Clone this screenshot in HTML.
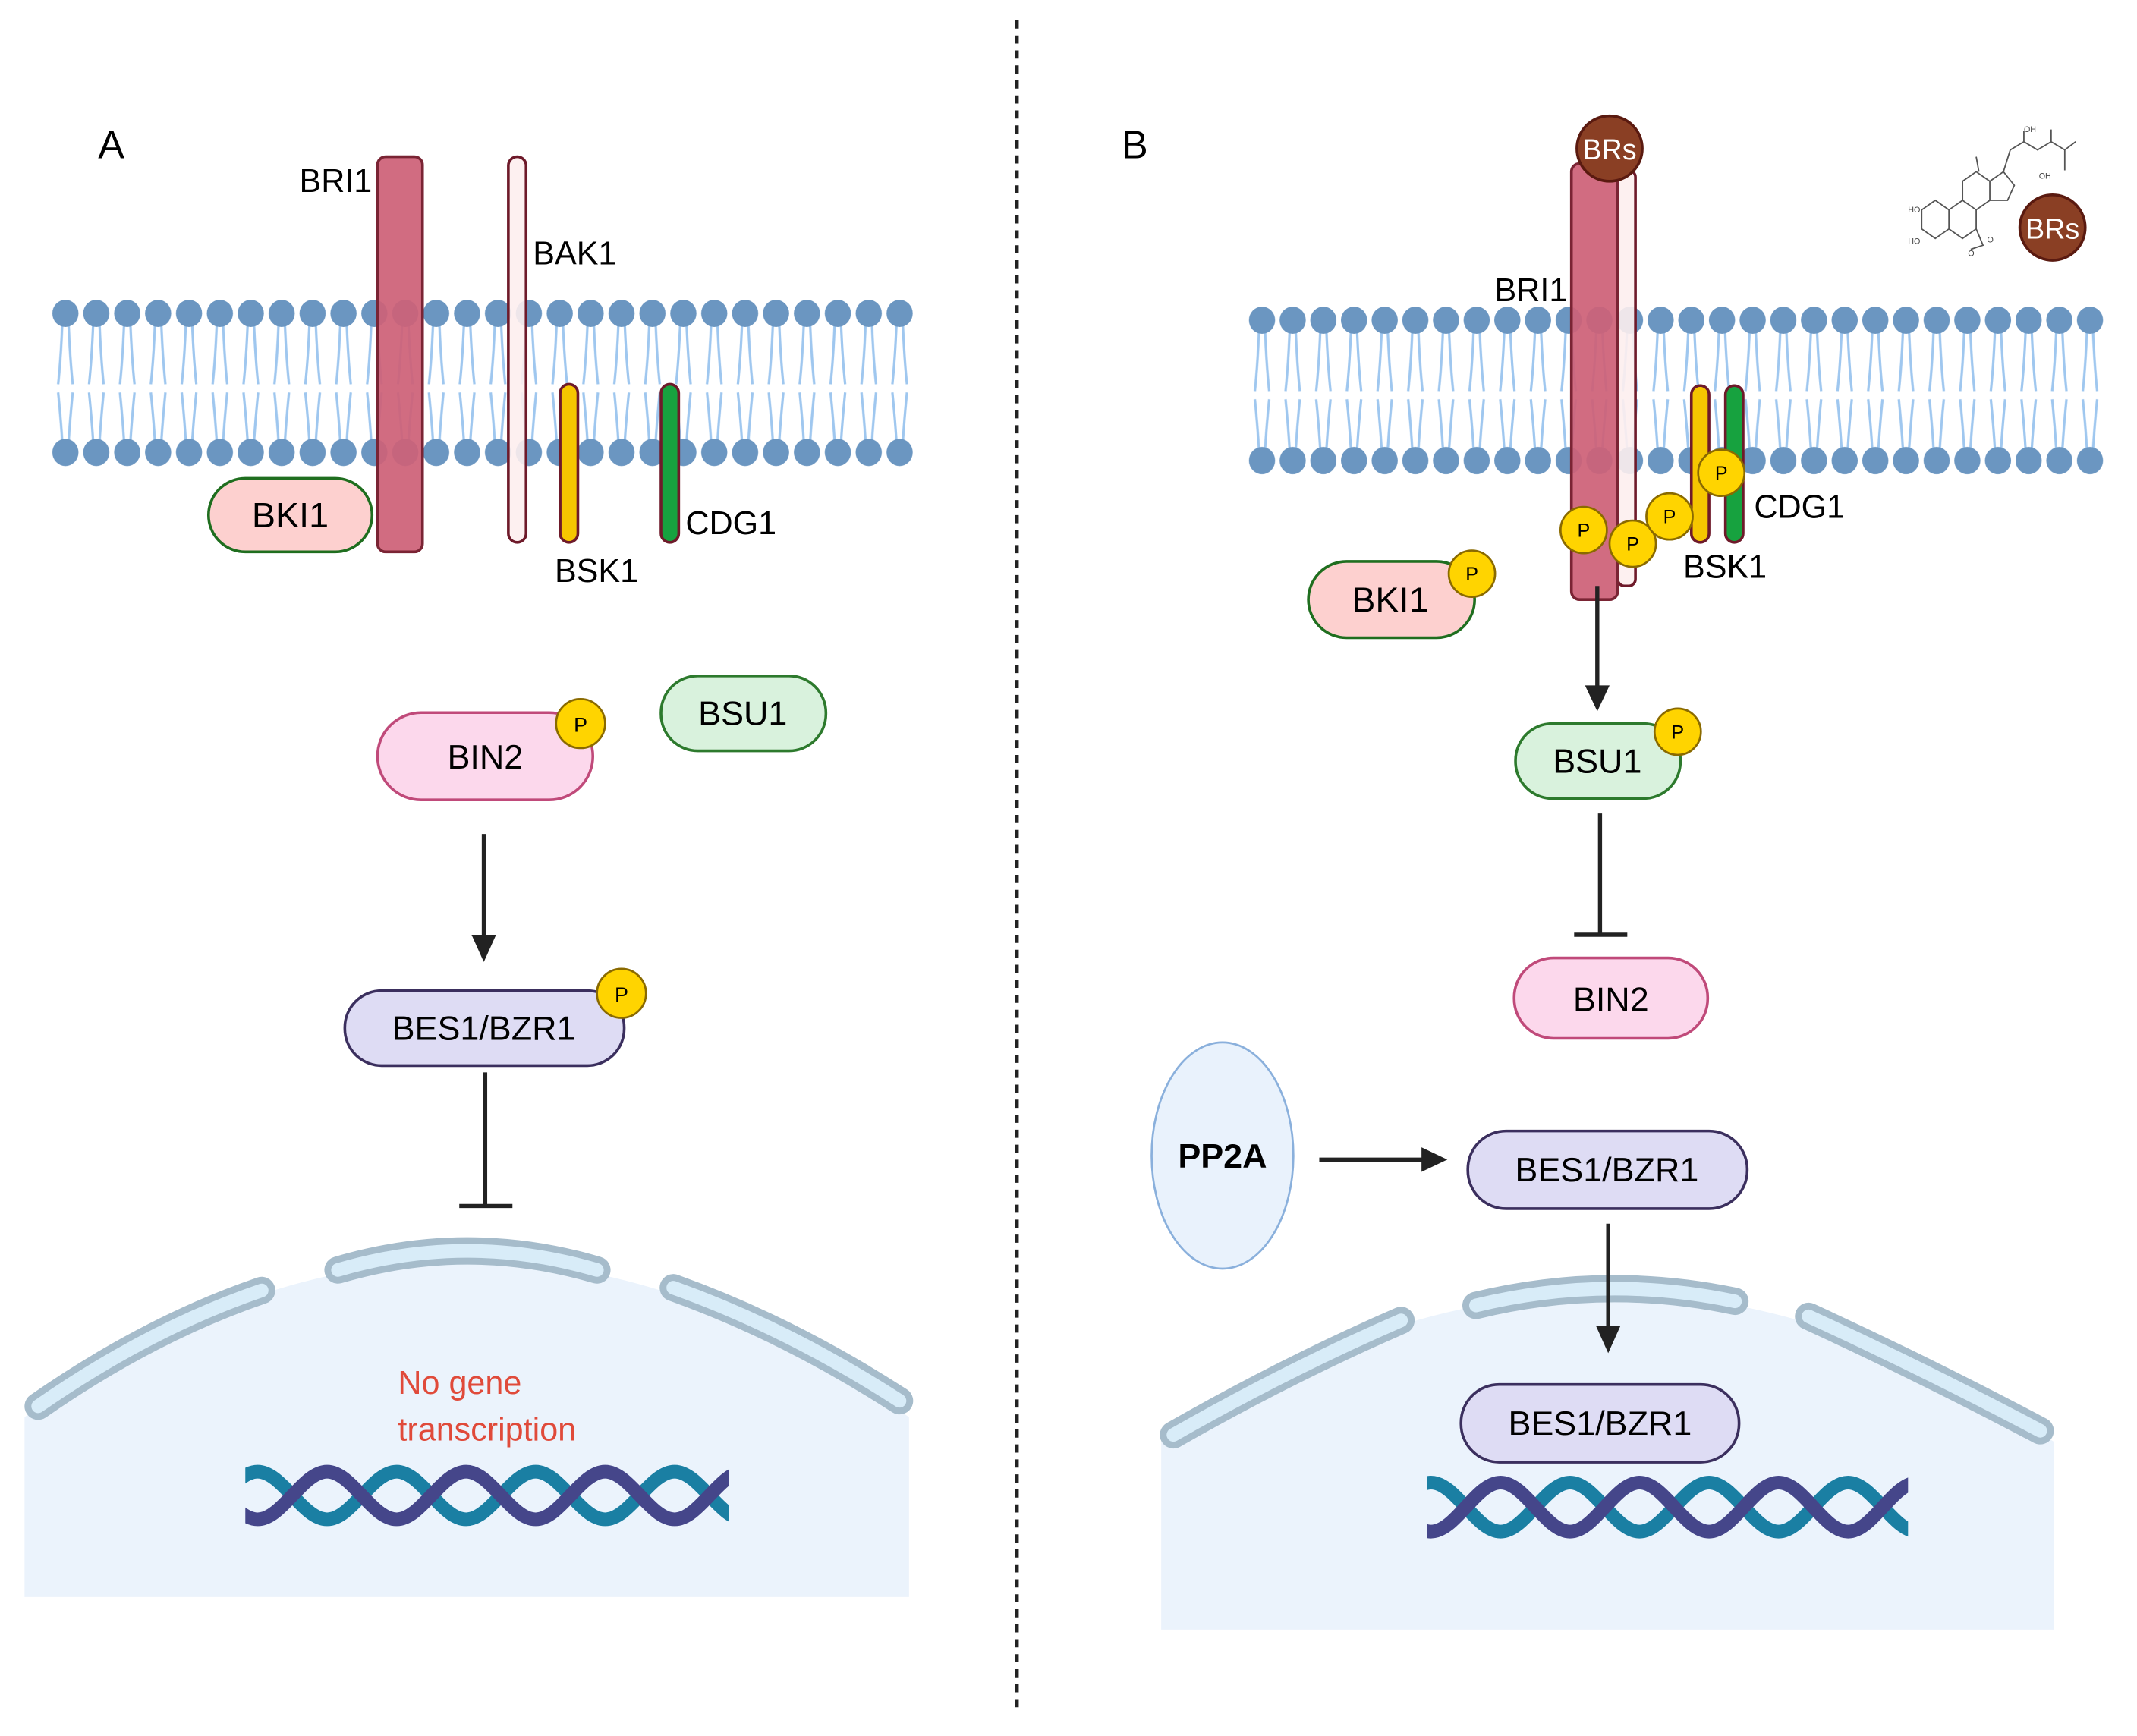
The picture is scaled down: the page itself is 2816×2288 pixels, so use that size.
<!DOCTYPE html>
<html><head><meta charset="utf-8"><style>
html,body{margin:0;padding:0;background:#fff;}
svg{display:block;}
text{font-family:"Liberation Sans",sans-serif;}
</style></head><body>
<svg width="2816" height="2288" viewBox="0 0 1568 1274" xmlns="http://www.w3.org/2000/svg">
<defs>
<pattern id="memA" patternUnits="userSpaceOnUse" x="36.67" y="218" width="22.67" height="128">
 <g stroke="#9fc7ef" stroke-width="1.8" fill="none">
  <path d="M9,20 Q8,45 6,64 M13.7,20 Q14.7,45 16.7,64"/>
  <path d="M6,70 Q8,90 9,106 M16.7,70 Q14.7,90 13.7,106"/>
 </g>
 <ellipse cx="11.33" cy="12" rx="9.6" ry="10" fill="#6b96c1"/>
 <ellipse cx="11.33" cy="114" rx="9.6" ry="10" fill="#6b96c1"/>
</pattern>
<pattern id="memB" patternUnits="userSpaceOnUse" x="914.75" y="223" width="22.5" height="128">
 <g stroke="#9fc7ef" stroke-width="1.8" fill="none">
  <path d="M9,20 Q8,45 6,64 M13.5,20 Q14.5,45 16.5,64"/>
  <path d="M6,70 Q8,90 9,107 M16.5,70 Q14.5,90 13.5,107"/>
 </g>
 <ellipse cx="11.25" cy="12" rx="9.6" ry="10" fill="#6b96c1"/>
 <ellipse cx="11.25" cy="115" rx="9.6" ry="10" fill="#6b96c1"/>
</pattern>
<clipPath id="cA"><rect x="180" y="1060" width="355" height="80"/></clipPath>
<clipPath id="cB"><rect x="1047" y="1068" width="353" height="80"/></clipPath>
</defs>

<line x1="746" y1="15" x2="746" y2="1256" stroke="#222" stroke-width="3" stroke-dasharray="6,5"/>

<!-- ============ PANEL A ============ -->
<text x="72" y="116" font-size="29">A</text>
<rect x="37" y="218" width="634" height="128" fill="url(#memA)"/>

<rect x="277" y="115" width="33" height="290" rx="6" fill="#cd6177" fill-opacity="0.93" stroke="#7a2434" stroke-width="2"/>
<text x="273" y="141" font-size="24" text-anchor="end">BRI1</text>
<rect x="373" y="115" width="13" height="283" rx="6.5" fill="#fdeeee" fill-opacity="0.9" stroke="#6e1a2a" stroke-width="2"/>
<text x="391" y="194" font-size="24">BAK1</text>
<rect x="411" y="282" width="13" height="116" rx="6.5" fill="#f6c600" stroke="#6e1a2a" stroke-width="2"/>
<text x="407" y="427" font-size="24">BSK1</text>
<rect x="485" y="282" width="13" height="116" rx="6.5" fill="#17a23f" stroke="#6e1a2a" stroke-width="2"/>
<text x="503" y="392" font-size="24">CDG1</text>

<rect x="153" y="351" width="120" height="54" rx="27" fill="#fdd0cf" stroke="#1f6e1f" stroke-width="2"/>
<text x="213" y="387" font-size="26" text-anchor="middle">BKI1</text>

<rect x="485" y="496" width="121" height="55" rx="27" fill="#d9f2dd" stroke="#2d7a2d" stroke-width="2"/>
<text x="545" y="532" font-size="25" text-anchor="middle">BSU1</text>

<rect x="277" y="523" width="158" height="64" rx="32" fill="#fcd8ec" stroke="#c04a7a" stroke-width="2"/>
<text x="356" y="564" font-size="25" text-anchor="middle">BIN2</text>
<circle cx="426" cy="531" r="18" fill="#ffd400" stroke="#8a6a00" stroke-width="1.5"/>
<text x="426" y="537" font-size="15" text-anchor="middle">P</text>

<line x1="355" y1="612" x2="355" y2="690" stroke="#222" stroke-width="3"/>
<polygon points="346,686 364,686 355,706" fill="#222"/>

<rect x="253" y="727" width="205" height="55" rx="27" fill="#dedcf4" stroke="#3b2f5e" stroke-width="2"/>
<text x="355" y="763" font-size="25" text-anchor="middle">BES1/BZR1</text>
<circle cx="456" cy="729" r="18" fill="#ffd400" stroke="#8a6a00" stroke-width="1.5"/>
<text x="456" y="735" font-size="15" text-anchor="middle">P</text>

<line x1="356" y1="787" x2="356" y2="885" stroke="#222" stroke-width="3"/>
<line x1="337" y1="885" x2="376" y2="885" stroke="#222" stroke-width="3"/>

<path d="M18,1172 L18,1040 Q343,810 667,1040 L667,1172 Z" fill="#ebf3fc"/>
<g fill="none" stroke-linecap="round">
 <g stroke="#a6bccb" stroke-width="20">
  <path d="M28,1032 Q110,975 192,947"/>
  <path d="M248,932 Q343,904 438,932"/>
  <path d="M494,945 Q578,975 660,1028"/>
 </g>
 <g stroke="#d8ecf8" stroke-width="10">
  <path d="M28,1032 Q110,975 192,947"/>
  <path d="M248,932 Q343,904 438,932"/>
  <path d="M494,945 Q578,975 660,1028"/>
 </g>
</g>
<text x="292" y="1023" font-size="24" fill="#e04a3a">No gene</text>
<text x="292" y="1057" font-size="24" fill="#e04a3a">transcription</text>
<g clip-path="url(#cA)" fill="none" stroke-width="10">
 <path stroke="#1a7fa3" d="M138,1115 C156,1115 171,1080 189,1080 S222,1115 240,1115 S273,1080 291,1080 S324,1115 342,1115 S375,1080 393,1080 S426,1115 444,1115 S477,1080 495,1080 S528,1115 546,1115"/>
 <path stroke="#45468a" d="M138,1080 C156,1080 171,1115 189,1115 S222,1080 240,1080 S273,1115 291,1115 S324,1080 342,1080 S375,1115 393,1115 S426,1080 444,1080 S477,1115 495,1115 S528,1080 546,1080"/>
</g>

<!-- ============ PANEL B ============ -->
<text x="823" y="116" font-size="29">B</text>
<rect x="915" y="223" width="631" height="128" fill="url(#memB)"/>

<rect x="1187" y="125" width="13" height="305" rx="5" fill="#fdeeee" fill-opacity="0.9" stroke="#6e1a2a" stroke-width="2"/>
<rect x="1153" y="120" width="34" height="320" rx="6" fill="#cd6177" fill-opacity="0.93" stroke="#7a2434" stroke-width="2"/>
<circle cx="1181" cy="109" r="24" fill="#8a3f24" stroke="#5a1a10" stroke-width="2"/>
<text x="1181" y="117" font-size="21" fill="#fff" text-anchor="middle">BRs</text>
<text x="1150" y="221" font-size="24" text-anchor="end">BRI1</text>

<rect x="1241" y="283" width="13" height="115" rx="6.5" fill="#f6c600" stroke="#6e1a2a" stroke-width="2"/>
<rect x="1266" y="283" width="13" height="115" rx="6.5" fill="#17a23f" stroke="#6e1a2a" stroke-width="2"/>
<g fill="#ffd400" stroke="#8a6a00" stroke-width="1.5">
 <circle cx="1162" cy="389" r="17"/><circle cx="1198" cy="399" r="17"/>
 <circle cx="1225" cy="379" r="17"/><circle cx="1263" cy="347" r="17"/>
</g>
<g font-size="14" text-anchor="middle">
 <text x="1162" y="394">P</text><text x="1198" y="404">P</text>
 <text x="1225" y="384">P</text><text x="1263" y="352">P</text>
</g>
<text x="1287" y="380" font-size="24">CDG1</text>
<text x="1235" y="424" font-size="24">BSK1</text>

<g fill="none" stroke="#555" stroke-width="1">
 <path d="M1410,154 L1420,147 L1430,154 L1430,168 L1420,175 L1410,168 Z"/>
 <path d="M1430,154 L1440,147 L1450,154 L1450,168 L1440,175 L1430,168"/>
 <path d="M1440,147 L1440,133 L1450,126 L1460,133 L1460,147 L1450,154"/>
 <path d="M1460,133 L1470,126 L1478,136 L1473,147 L1460,147"/>
 <path d="M1450,168 L1455,180 L1446,183 M1470,126 L1475,110 L1485,104 L1495,110 L1505,104 L1515,110 L1523,104 M1515,110 L1515,125 M1440,147 L1440,138 M1452,126 L1450,115 M1485,104 L1485,96 M1505,104 L1505,95"/>
</g>
<g font-size="6" fill="#444">
 <text x="1400" y="156">HO</text><text x="1400" y="179">HO</text>
 <text x="1485" y="97">OH</text><text x="1496" y="131">OH</text>
 <text x="1444" y="188">O</text><text x="1458" y="178">O</text>
</g>
<circle cx="1506" cy="167" r="24" fill="#8a3f24" stroke="#5a1a10" stroke-width="2"/>
<text x="1506" y="175" font-size="21" fill="#fff" text-anchor="middle">BRs</text>

<rect x="960" y="412" width="122" height="56" rx="28" fill="#fdd0cf" stroke="#1f6e1f" stroke-width="2"/>
<text x="1020" y="449" font-size="26" text-anchor="middle">BKI1</text>
<circle cx="1080" cy="421" r="17" fill="#ffd400" stroke="#8a6a00" stroke-width="1.5"/>
<text x="1080" y="426" font-size="14" text-anchor="middle">P</text>

<line x1="1172" y1="430" x2="1172" y2="506" stroke="#222" stroke-width="3"/>
<polygon points="1163,503 1181,503 1172,522" fill="#222"/>

<rect x="1112" y="531" width="121" height="55" rx="27" fill="#d9f2dd" stroke="#2d7a2d" stroke-width="2"/>
<text x="1172" y="567" font-size="25" text-anchor="middle">BSU1</text>
<circle cx="1231" cy="537" r="17" fill="#ffd400" stroke="#8a6a00" stroke-width="1.5"/>
<text x="1231" y="542" font-size="14" text-anchor="middle">P</text>

<line x1="1174" y1="597" x2="1174" y2="686" stroke="#222" stroke-width="3"/>
<line x1="1155" y1="686" x2="1194" y2="686" stroke="#222" stroke-width="3"/>

<rect x="1111" y="703" width="142" height="59" rx="29" fill="#fcd8ec" stroke="#c04a7a" stroke-width="2"/>
<text x="1182" y="742" font-size="25" text-anchor="middle">BIN2</text>

<ellipse cx="897" cy="848" rx="52" ry="83" fill="#e9f2fc" stroke="#8ab0dc" stroke-width="1.5"/>
<text x="897" y="857" font-size="25" font-weight="bold" text-anchor="middle">PP2A</text>
<line x1="968" y1="851" x2="1045" y2="851" stroke="#222" stroke-width="3"/>
<polygon points="1043,842 1043,860 1062,851" fill="#222"/>

<rect x="1077" y="830" width="205" height="57" rx="28" fill="#dedcf4" stroke="#3b2f5e" stroke-width="2"/>
<text x="1179" y="867" font-size="25" text-anchor="middle">BES1/BZR1</text>

<path d="M852,1196 L852,1058 Q1180,840 1507,1058 L1507,1196 Z" fill="#ebf3fc"/>
<g fill="none" stroke-linecap="round">
 <g stroke="#a6bccb" stroke-width="20">
  <path d="M861,1053 Q945,1005 1028,969"/>
  <path d="M1083,958 Q1178,935 1273,955"/>
  <path d="M1327,966 Q1412,1005 1497,1050"/>
 </g>
 <g stroke="#d8ecf8" stroke-width="10">
  <path d="M861,1053 Q945,1005 1028,969"/>
  <path d="M1083,958 Q1178,935 1273,955"/>
  <path d="M1327,966 Q1412,1005 1497,1050"/>
 </g>
</g>
<line x1="1180" y1="898" x2="1180" y2="976" stroke="#222" stroke-width="3"/>
<polygon points="1171,973 1189,973 1180,993" fill="#222"/>

<rect x="1072" y="1016" width="204" height="57" rx="28" fill="#dedcf4" stroke="#3b2f5e" stroke-width="2"/>
<text x="1174" y="1053" font-size="25" text-anchor="middle">BES1/BZR1</text>
<g clip-path="url(#cB)" fill="none" stroke-width="10">
 <path stroke="#1a7fa3" d="M999,1124 C1017,1124 1032,1088 1050,1088 S1083,1124 1101,1124 S1134,1088 1152,1088 S1185,1124 1203,1124 S1236,1088 1254,1088 S1287,1124 1305,1124 S1338,1088 1356,1088 S1389,1124 1407,1124"/>
 <path stroke="#45468a" d="M999,1088 C1017,1088 1032,1124 1050,1124 S1083,1088 1101,1088 S1134,1124 1152,1124 S1185,1088 1203,1088 S1236,1124 1254,1124 S1287,1088 1305,1088 S1338,1124 1356,1124 S1389,1088 1407,1088"/>
</g>
</svg>
</body></html>
